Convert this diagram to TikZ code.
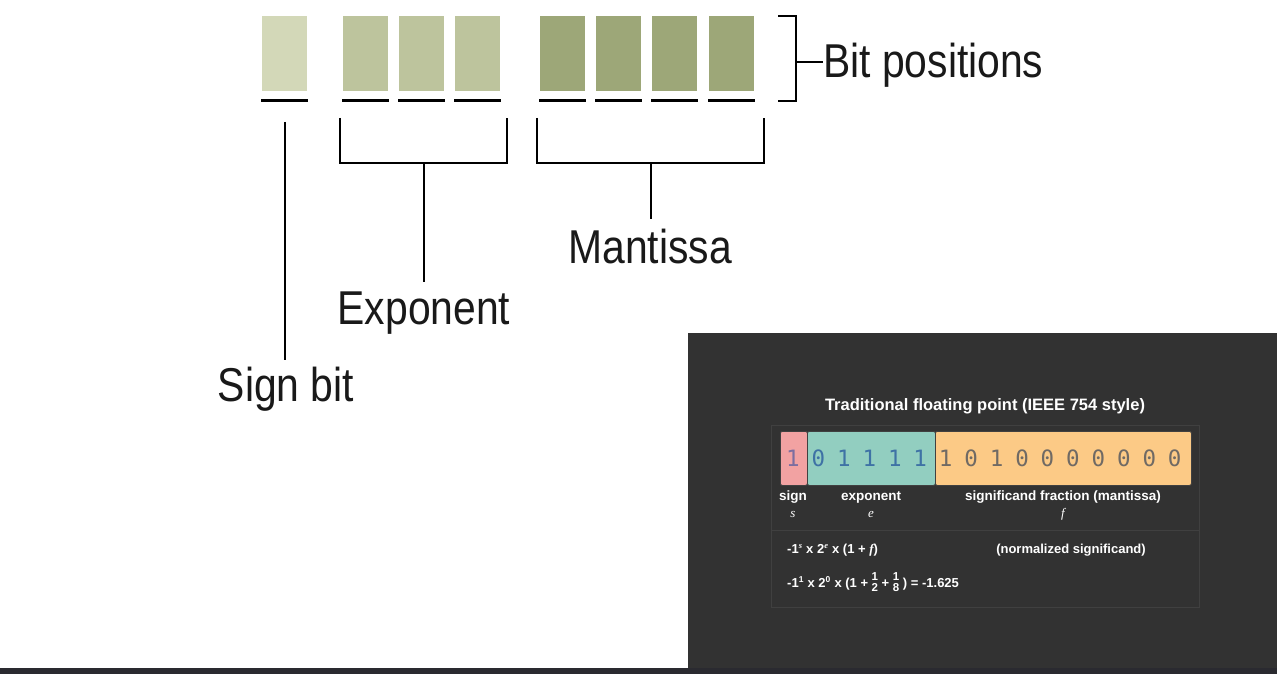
\documentclass[tikz,border=0pt]{standalone}
\usepackage{fontspec}
\usetikzlibrary{calc}
\setmainfont{Liberation Sans}
\newfontfamily\labelfont[FakeStretch=0.86]{Liberation Sans}
\newfontfamily\bitfont{DejaVu Sans Mono}
\newfontfamily\varfont{Liberation Serif}
\definecolor{signgreen}{RGB}{211,216,184}
\definecolor{expgreen}{RGB}{189,196,157}
\definecolor{mangreen}{RGB}{157,167,120}
\definecolor{panelbg}{RGB}{50,50,50}
\definecolor{stripbg}{RGB}{42,42,48}
\definecolor{innerline}{RGB}{64,64,64}
\definecolor{signred}{RGB}{242,162,162}
\definecolor{expteal}{RGB}{146,206,192}
\definecolor{manorange}{RGB}{252,202,134}
\definecolor{signdigit}{RGB}{125,110,160}
\definecolor{expdigit}{RGB}{62,114,165}
\definecolor{mandigit}{RGB}{112,106,100}
\newcommand{\bitfrac}[2]{\ensuremath{\vcenter{\hbox{\fontsize{11.5}{10}\selectfont\begin{tabular}{@{}c@{}}#1\\[0pt]#2\end{tabular}}}}}
\newcommand{\bitsup}[1]{\textsuperscript{\fontsize{8.5}{8.5}\selectfont #1}}
\begin{document}
\begin{tikzpicture}[x=1pt,y=-1pt,
  bitbox/.style={minimum width=45pt,minimum height=75pt,inner sep=0pt,anchor=north west},
  rule/.style={line width=2.8pt},
  brace/.style={line width=2.4pt},
  biglabel/.style={font=\labelfont\fontsize{47.5}{47.5}\selectfont,inner sep=0pt,text=black!90},
  field/.style={draw=black!75,line width=0.8pt,rounded corners=2pt,minimum height=54pt,inner sep=0pt,anchor=north west},
  digit/.style={font=\bitfont\fontsize{22.5}{22.5}\selectfont,inner sep=0pt},
  fieldlbl/.style={font=\bfseries\fontsize{13.5}{13.5}\selectfont,text=white,inner sep=0pt},
  varlbl/.style={font=\varfont\itshape\fontsize{13}{13}\selectfont,text=white,inner sep=0pt},
  formula/.style={font=\bfseries\fontsize{13}{13}\selectfont,text=white,inner sep=0pt}]
\useasboundingbox (0,0) rectangle (1277,674);
\fill[white] (0,0) rectangle (1277,674);

\node[bitbox,fill=signgreen] (s0) at (262,16) {};
\foreach \x [count=\i] in {343,399,455}
  \node[bitbox,fill=expgreen] (e\i) at (\x,16) {};
\foreach \x [count=\i] in {540,596,652,709}
  \node[bitbox,fill=mangreen] (m\i) at (\x,16) {};
\foreach \n in {s0,e1,e2,e3,m1,m2,m3,m4}
  \draw[rule] ([xshift=-1pt,yshift=-9pt]\n.south west) -- ([xshift=1pt,yshift=-9pt]\n.south east);

\draw[brace] (778,16) -| (796,101) -- (778,101);
\coordinate (brmid) at (796,62);
\node[biglabel,anchor=base west] (bitpos) at (823,78) {Bit positions};
\draw[brace] (brmid) -- (brmid -| bitpos.west);

\draw[brace] (340,118) |- (507,163) -- (507,118);
\draw[brace] (537,118) |- (764,163) -- (764,118);
\coordinate (signtop) at (285,122);
\coordinate (expmid) at (424,163);
\coordinate (manmid) at (651,163);
\node[biglabel,anchor=base] (signlbl) at (286,401) {Sign bit};
\node[biglabel,anchor=base] (explbl) at (424,324) {Exponent};
\node[biglabel,anchor=base] (manlbl) at (650,263) {Mantissa};
\draw[brace] (signtop) -- ($(signtop |- signlbl.north)+(0,-6)$);
\draw[brace] (expmid) -- ($(expmid |- explbl.north)+(0,-9)$);
\draw[brace] (manmid) -- ($(manmid |- manlbl.north)+(0,-9)$);

\fill[panelbg] (688,333) rectangle (1277,668);
\fill[stripbg] (0,668) rectangle (1277,674);
\draw[innerline,line width=1pt] (771,425) rectangle (1199,607);
\draw[innerline,line width=1pt] (771,530) -- (1199,530);

\node[font=\bfseries\fontsize{16.5}{16.5}\selectfont,text=white,inner sep=0pt] (title) at (985,406) {Traditional floating point (IEEE 754 style)};

\node[field,fill=manorange,minimum width=256pt] (fman) at (935,431) {};
\node[field,fill=expteal,minimum width=128pt] (fexp) at (807,431) {};
\node[field,fill=signred,minimum width=27pt] (fsign) at (780,431) {};

\node[digit,text=signdigit] (d0) at (793,458) {1};
\foreach \d [count=\i] in {0,1,1,1,1}
  \node[digit,text=expdigit] (d\i) at (793+25.45*\i,458) {\d};
\foreach \d [count=\i from 6] in {1,0,1,0,0,0,0,0,0,0}
  \node[digit,text=mandigit] (d\i) at (793+25.45*\i,458) {\d};

\node[fieldlbl] (lsign) at (793,497) {sign};
\node[fieldlbl] (lexp) at (871,497) {exponent};
\node[fieldlbl] (lman) at (1063,497) {significand fraction (mantissa)};
\node[varlbl] (vs) at (793,514) {s};
\node[varlbl] (ve) at (871,514) {e};
\node[varlbl] (vf) at (1063,514) {f};

\node[formula,anchor=west] (form1) at (787,550) {-1\bitsup{\varfont\itshape s} x 2\bitsup{\varfont\itshape e} x (1 + {\varfont\itshape f})};
\node[formula] (form1note) at (1071,550) {(normalized significand)};
\node[formula,anchor=west] (form2) at (787,584) {-1\bitsup{1} x 2\bitsup{0} x (1 + \bitfrac{1}{2} + \bitfrac{1}{8} ) = -1.625};

\end{tikzpicture}
\end{document}
